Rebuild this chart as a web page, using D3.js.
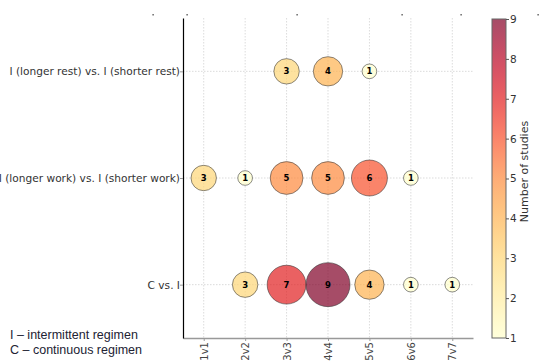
<!DOCTYPE html>
<html><head><meta charset="utf-8">
<script src="https://cdn.jsdelivr.net/npm/d3@7"></script>
<style>body{margin:0;background:#fff}svg{display:block}</style>
</head><body>
<svg id="c" width="539" height="362"></svg>
<script>
const xCats = ["1v1","2v2","3v3","4v4","5v5","6v6","7v7"];
const rows = ["C vs. I","I (longer work) vs. I (shorter work)","I (longer rest) vs. I (shorter rest)"];
const restVals = [null,null,3,4,1,null,null];
const workVals = [3,1,5,5,6,1,null];
const cviVals  = [null,3,7,9,4,1,1];
const cbTicks = [1,2,3,4,5,6,7,8,9];
const legendLines = ["I – intermittent regimen","C – continuous regimen"];

const svg = d3.select("#c");
const L=183,R=473,T=18,B=338;
const x = d3.scaleLinear().domain([0.5,7.5]).range([L,R]);
const y = d3.scaleLinear().domain([-0.5,2.5]).range([B,T]);
const rS = d3.scaleSqrt().domain([0,9]).range([0,22]);
const interp = d3.interpolateYlOrRd;
const cNorm = d3.scaleLinear().domain([1,9]).range([0,1]);
const col = v => d3.color(interp(cNorm(v)));

// grid
const g = svg.append("g");
xCats.forEach((c,i)=>{
  g.append("line").attr("x1",x(i+1)).attr("x2",x(i+1)).attr("y1",T).attr("y2",B)
   .attr("stroke","#ccc").attr("stroke-width",0.7).attr("stroke-dasharray","1.5,1.5");
});
rows.forEach((r,i)=>{
  g.append("line").attr("x1",L).attr("x2",R).attr("y1",y(i)).attr("y2",y(i))
   .attr("stroke","#ccc").attr("stroke-width",0.7).attr("stroke-dasharray","1.5,1.5");
});

// axes
const xAxis = d3.axisBottom(x).tickValues(d3.range(1,8)).tickFormat(d=>xCats[d-1]).tickSize(3).tickSizeOuter(0);
const xa = svg.append("g").attr("transform",`translate(0,${B})`).call(xAxis);
xa.select(".domain").attr("stroke","#999").attr("stroke-width",1.5);
xa.selectAll(".tick line").attr("stroke","#999");
xa.selectAll(".tick text").attr("transform","rotate(-90)").attr("text-anchor","end")
  .attr("x",-4).attr("y",0).attr("dy","0.35em")
  .attr("font-family","DejaVu Sans").attr("font-size",10).attr("fill","#444");

const yAxis = d3.axisLeft(y).tickValues([0,1,2]).tickFormat(d=>rows[d]).tickSize(3).tickSizeOuter(0);
const ya = svg.append("g").attr("transform",`translate(${L},0)`).call(yAxis);
ya.select(".domain").attr("stroke","#000").attr("stroke-width",1.2);
ya.selectAll(".tick line").attr("stroke","#999");
ya.selectAll(".tick text").attr("font-family","DejaVu Sans").attr("font-size",10.6).attr("fill","#333").attr("x",-3);

// bubbles
const data = [];
[cviVals,workVals,restVals].forEach((arr,ri)=>arr.forEach((v,ci)=>{ if(v!=null) data.push({r:ri,c:ci+1,v}); }));
const bg = svg.append("g");
bg.selectAll("circle").data(data).join("circle")
  .attr("cx",d=>x(d.c)).attr("cy",d=>y(d.r)).attr("r",d=>rS(d.v))
  .attr("fill",d=>col(d.v)).attr("fill-opacity",0.7)
  .attr("stroke","#333").attr("stroke-opacity",0.7).attr("stroke-width",0.8);
bg.selectAll("text").data(data).join("text")
  .attr("x",d=>x(d.c)).attr("y",d=>y(d.r)).attr("dy","0.35em").attr("text-anchor","middle")
  .attr("font-family","DejaVu Sans").attr("font-weight","bold").attr("font-size",8.5).attr("fill","#000")
  .text(d=>d.v);

// colorbar
const cbX=492,cbW=14,cbT=19,cbB=338;
const defs = svg.append("defs");
const grad = defs.append("linearGradient").attr("id","cbg").attr("x1",0).attr("x2",0).attr("y1",1).attr("y2",0);
d3.range(0,1.0001,0.05).forEach(t=>grad.append("stop").attr("offset",t).attr("stop-color",interp(t)).attr("stop-opacity",0.7));
svg.append("rect").attr("x",cbX).attr("y",cbT).attr("width",cbW).attr("height",cbB-cbT).attr("fill","url(#cbg)")
  .attr("stroke","#666").attr("stroke-width",1);
const cy = d3.scaleLinear().domain([1,9]).range([cbB,cbT]);
const ca = svg.append("g").attr("transform",`translate(${cbX+cbW},0)`).call(d3.axisRight(cy).tickValues(cbTicks).tickFormat(d3.format("d")).tickSize(3).tickSizeOuter(0));
ca.select(".domain").remove();
ca.selectAll(".tick line").attr("stroke","#555");
ca.selectAll(".tick text").attr("font-family","DejaVu Sans").attr("font-size",10.5).attr("fill","#333").attr("x",4);
svg.append("text").attr("transform",`translate(528,${(cbT+cbB)/2 - 7}) rotate(-90)`).attr("text-anchor","middle")
  .attr("font-family","DejaVu Sans").attr("font-size",11).attr("fill","#333").text("Number of studies");

// stray top tick dots
[153,187,297,402,461,538].forEach(px=>svg.append("rect").attr("x",px-0.5).attr("y",14).attr("width",1.2).attr("height",1.5).attr("fill","#444"));

// legend
svg.selectAll(".leg").data(legendLines).join("text").attr("class","leg")
  .attr("x",10).attr("y",(d,i)=>339+i*15)
  .attr("font-family","Liberation Sans").attr("font-size",12.5).attr("fill","#223")
  .text(d=>d);
</script>
</body></html>
